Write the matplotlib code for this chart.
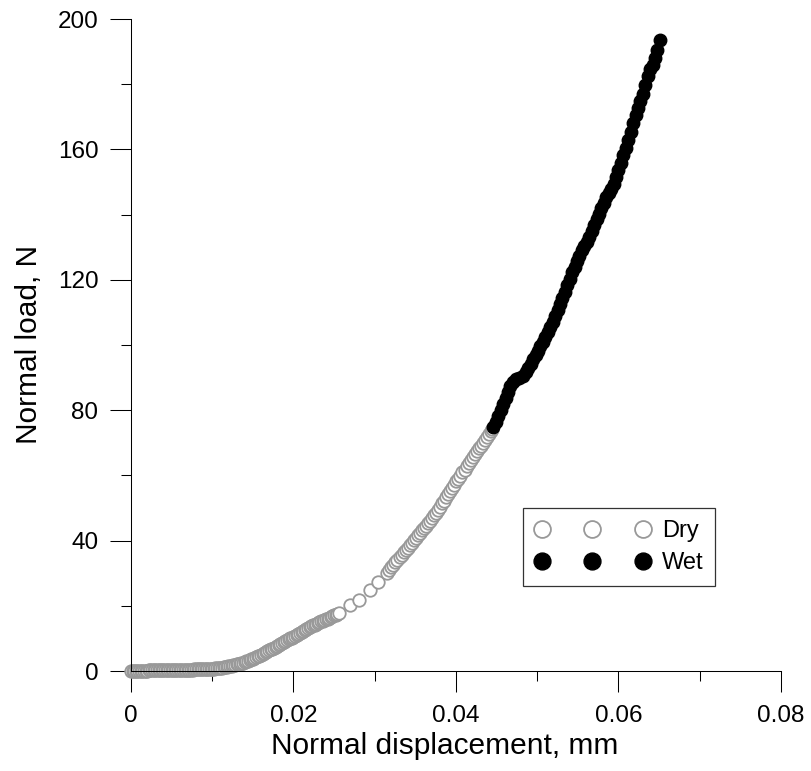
import matplotlib
matplotlib.use('Agg')
import matplotlib.pyplot as plt

plt.rcParams['font.family'] = ['Liberation Sans', 'DejaVu Sans']

# dry contact: normal displacement (mm) and normal load (N)
dry_x = [0.0000, 0.0002, 0.0004, 0.0006, 0.0008, 0.0010, 0.0012, 0.0014, 0.0016, 0.0018,
         0.0020, 0.0022, 0.0024, 0.0026, 0.0028, 0.0030, 0.0032, 0.0034, 0.0036, 0.0038,
         0.0040, 0.0042, 0.0044, 0.0046, 0.0048, 0.0050, 0.0052, 0.0054, 0.0056, 0.0058,
         0.0060, 0.0062, 0.0064, 0.0066, 0.0068, 0.0070, 0.0072, 0.0074, 0.0076, 0.0078,
         0.0080, 0.0082, 0.0084, 0.0086, 0.0088, 0.0090, 0.0092, 0.0094, 0.0096, 0.0098,
         0.0100, 0.0102, 0.0104, 0.0106, 0.0108, 0.0110,
         0.0112, 0.0114, 0.0116, 0.0118, 0.0120, 0.0122, 0.0124, 0.0126, 0.0128, 0.0130,
         0.0132, 0.0134, 0.0136, 0.0138, 0.0140, 0.0142, 0.0144, 0.0146, 0.0148, 0.0150,
         0.0152, 0.0154, 0.0156, 0.0158, 0.0160, 0.0162, 0.0164, 0.0166, 0.0168, 0.0170,
         0.0172, 0.0174, 0.0176, 0.0178, 0.0180, 0.0182, 0.0184, 0.0186, 0.0188, 0.0190,
         0.0192, 0.0194, 0.0196, 0.0198, 0.0200, 0.0202, 0.0204, 0.0206, 0.0208, 0.0210,
         0.0212, 0.0214, 0.0216, 0.0218, 0.0220, 0.0222, 0.0224, 0.0226, 0.0228, 0.0230,
         0.0232, 0.0234, 0.0236, 0.0238, 0.0240, 0.0242, 0.0244, 0.0246, 0.0248, 0.0250,
         0.0252, 0.0254, 0.0256,
         0.0270, 0.0281, 0.0294, 0.0304, 0.0315,
         0.03180, 0.03205, 0.03230, 0.03255, 0.03280, 0.03305, 0.03330, 0.03355, 0.03380, 0.03405,
         0.03430, 0.03455, 0.03480, 0.03505, 0.03530, 0.03555, 0.03580, 0.03605, 0.03630, 0.03655,
         0.03680, 0.03705, 0.03730, 0.03755, 0.03780, 0.03805, 0.03830, 0.03855, 0.03880, 0.03905,
         0.03930, 0.03955, 0.03980, 0.04005, 0.04030, 0.04055, 0.04080, 0.04105, 0.04130, 0.04155,
         0.04180, 0.04205, 0.04230, 0.04255, 0.04280, 0.04305, 0.04330, 0.04355, 0.04380, 0.04405,
         0.04430, 0.04445]
dry_y = [0.0, 0.0, 0.0, 0.0, 0.1, 0.1, 0.1, 0.1, 0.1, 0.1,
         0.1, 0.2, 0.2, 0.2, 0.2, 0.2, 0.2, 0.2, 0.2, 0.2,
         0.3, 0.3, 0.3, 0.3, 0.3, 0.3, 0.3, 0.3, 0.3, 0.3,
         0.3, 0.3, 0.4, 0.4, 0.4, 0.4, 0.4, 0.4, 0.4, 0.5,
         0.5, 0.5, 0.5, 0.5, 0.5, 0.6, 0.6, 0.6, 0.6, 0.7,
         0.7, 0.7, 0.8, 0.8, 0.9, 0.9,
         1.0, 1.1, 1.2, 1.3, 1.4, 1.5, 1.6, 1.75, 1.9, 2.0,
         2.1, 2.25, 2.4, 2.6, 2.8, 3.0, 3.2, 3.4, 3.6, 3.8,
         4.0, 4.25, 4.5, 4.75, 5.0, 5.3, 5.6, 5.85, 6.1, 6.35,
         6.6, 6.85, 7.1, 7.4, 7.7, 8.0, 8.3, 8.6, 8.9, 9.15,
         9.4, 9.7, 10.0, 10.25, 10.5, 10.8, 11.1, 11.4, 11.7, 12.0,
         12.3, 12.6, 12.9, 13.2, 13.5, 13.75, 14.0, 14.25, 14.5, 14.75,
         15.0, 15.2, 15.4, 15.6, 15.8, 16.05, 16.3, 16.55, 16.8, 17.05,
         17.3, 17.6, 17.9,
         20.2, 21.8, 24.8, 27.4, 30.0,
         31.1, 31.8, 32.6, 33.4, 34.1, 34.9, 35.6, 36.4, 37.1, 37.8,
         38.6, 39.4, 40.1, 40.8, 41.6, 42.3, 43.1, 43.8, 44.6, 45.4,
         46.1, 46.9, 47.7, 48.6, 49.5, 50.4, 51.4, 52.3, 53.3, 54.3,
         55.2, 56.2, 57.2, 58.2, 59.0, 59.9, 60.9, 61.8, 62.8, 63.8,
         64.7, 65.6, 66.6, 67.5, 68.3, 69.1, 70.0, 70.9, 71.8, 72.8,
         73.6, 74.2]

# wet contact
wet_x = [0.0446, 0.0449, 0.0452, 0.0455, 0.0458, 0.0461, 0.0464, 0.0467, 0.0470, 0.0474,
         0.0478, 0.0482, 0.0486, 0.0489, 0.0492, 0.0495, 0.0498, 0.0501, 0.0504, 0.0507,
         0.0510, 0.0513, 0.0516, 0.0519, 0.0522, 0.0525, 0.0528, 0.0531, 0.0534, 0.0537,
         0.0540, 0.0543, 0.0546, 0.0549, 0.0552, 0.0555, 0.0558, 0.0561, 0.0564, 0.0567,
         0.0570, 0.0573, 0.0576, 0.0579, 0.0582, 0.0585, 0.0588, 0.0591, 0.0594, 0.0597,
         0.0600, 0.0603, 0.0606, 0.0609, 0.0612, 0.0615, 0.0618, 0.0621, 0.0624, 0.0627,
         0.0630, 0.0633, 0.0636, 0.0639, 0.0642, 0.0645, 0.0648, 0.0651]
wet_y = [75.0, 76.5, 78.2, 80.0, 81.8, 83.6, 85.5, 87.3, 88.8, 89.5,
         89.8, 90.6, 91.8, 93.0, 94.3, 95.8, 97.0, 98.3, 99.6, 101.0,
         102.5, 104.0, 105.5, 107.0, 108.8, 110.6, 112.6, 114.5, 116.4, 118.4,
         120.3, 122.3, 124.0, 125.7, 127.4, 129.0, 130.3, 131.6, 133.1, 134.9,
         136.7, 138.6, 140.3, 142.0, 143.7, 145.3, 146.7, 148.0, 149.5, 151.5,
         153.6, 155.9, 158.2, 160.5, 162.8, 165.3, 168.0, 170.5, 172.6, 174.7,
         177.0, 179.8, 182.5, 184.6, 186.0, 188.0, 190.5, 193.5]

x_ticks = [0, 0.02, 0.04, 0.06, 0.08]
x_labels = ['0', '0.02', '0.04', '0.06', '0.08']
y_ticks = [0, 40, 80, 120, 160, 200]

fig = plt.figure(figsize=(8.12, 7.71), dpi=100)
ax = fig.add_axes([131 / 812, 100 / 771, 650 / 812, 652 / 771])

ax.plot(dry_x, dry_y, linestyle='none', marker='o', ms=9, mfc='white',
        mec='#999999', mew=1.3, clip_on=False, label='Dry')
ax.plot(wet_x, wet_y, linestyle='none', marker='o', ms=9, mfc='black',
        mec='black', mew=1.0, clip_on=False, label='Wet')

ax.set_xlim(0, 0.08)
ax.set_ylim(0, 200)
ax.set_xticks(x_ticks)
ax.set_xticklabels(x_labels)
ax.set_yticks(y_ticks)
ax.set_xticks([0.01, 0.03, 0.05, 0.07], minor=True)
ax.set_yticks([20, 60, 100, 140, 180], minor=True)

for s in ['top', 'right']:
    ax.spines[s].set_visible(False)
for s in ['left', 'bottom']:
    ax.spines[s].set_linewidth(0.75)

ax.tick_params(which='major', direction='out', length=15, width=0.75, labelsize=17.5)
ax.tick_params(which='minor', direction='out', length=7.5, width=0.75)
ax.tick_params(axis='x', which='major', pad=9.5)
ax.tick_params(axis='y', which='major', pad=8.5)

ax.set_xlabel('Normal displacement, mm', fontsize=21.5)
ax.set_ylabel('Normal load, N', fontsize=21.5)
ax.xaxis.set_label_coords(0.483, -0.093)
ax.yaxis.set_label_coords(-0.135, 0.5)

leg = ax.legend(loc='upper left', bbox_to_anchor=(522.7 / 812, 1 - 508.3 / 771),
                bbox_transform=fig.transFigure, borderaxespad=0, numpoints=3,
                handlelength=4.9, handletextpad=0.5, labelspacing=0.42,
                borderpad=0.5, fontsize=17, markerscale=1.35, fancybox=False,
                framealpha=1)
leg.get_frame().set_edgecolor('#333333')
leg.get_frame().set_linewidth(0.9)

plt.savefig('out.png', dpi=100)
